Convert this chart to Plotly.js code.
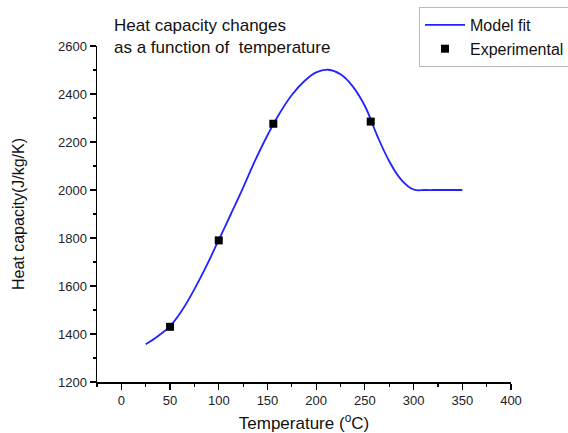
<!DOCTYPE html>
<html>
<head>
<meta charset="utf-8">
<script src="https://cdn.plot.ly/plotly-3.0.1.min.js"></script>
<style>html,body{margin:0;padding:0;background:#fff;overflow:hidden}#chart{width:568px;height:433px}</style>
</head>
<body>
<div id="chart"></div>
<script>
// Model fit curve
const fitTemp = [25, 37.5, 50, 62.5, 75, 87.5, 100, 112.5, 125, 137.5, 150, 162.5, 175, 187.5, 200, 212.5, 225, 237.5, 250, 262.5, 275, 287.5, 300, 312.5, 325, 337.5, 350];
const fitCp   = [1357, 1391, 1433, 1500, 1587, 1685, 1792, 1900, 2010, 2124, 2228, 2320, 2396, 2452, 2490, 2501, 2482, 2432, 2350, 2228, 2120, 2042, 2002, 2000, 2000, 2000, 2000];
// Experimental points
const expTemp = [50, 100, 156, 256];
const expCp   = [1430, 1790, 2276, 2285];

const font = 'Arial, "Liberation Sans", sans-serif';

const traces = [
  {x: fitTemp, y: fitCp, type: 'scatter', mode: 'lines', name: 'Model fit',
   line: {color: '#2222ff', width: 1.8, shape: 'spline', smoothing: 1.2}},
  {x: expTemp, y: expCp, type: 'scatter', mode: 'markers', name: 'Experimental',
   marker: {symbol: 'square', color: '#000', size: 8}}
];

const layout = {
  width: 568, height: 433,
  margin: {l: 97, r: 57, t: 46, b: 51, autoexpand: false},
  paper_bgcolor: '#fff', plot_bgcolor: '#fff',
  font: {family: font, size: 13, color: '#222'},
  title: {text: 'Heat capacity changes<br>as a function of  temperature',
          xref: 'container', yref: 'container', x: 114/568, xanchor: 'left',
          y: 1 - 31/433, yanchor: 'top', font: {family: font, size: 17, color: '#111'}},
  showlegend: true,
  legend: {x: (419 - 97) / 414, y: (382 - 7) / 336, xanchor: 'left', yanchor: 'top',
           bordercolor: '#bbb', borderwidth: 1, bgcolor: '#fff', itemwidth: 40,
           font: {family: font, size: 16, color: '#111'}, tracegroupgap: 0},
  xaxis: {range: [-25, 400], tick0: 0, dtick: 50, ticks: 'outside', ticklen: 6,
          tickwidth: 1.2, tickcolor: '#000', showline: true, linecolor: '#000', linewidth: 1.5,
          showgrid: false, zeroline: false, tickfont: {size: 13, color: '#222'},
          minor: {dtick: 25, ticks: 'outside', ticklen: 3, tickcolor: '#000', showgrid: false},
          title: {text: 'Temperature (<sup>o</sup>C)', font: {size: 17, color: '#111'}, standoff: 10}},
  yaxis: {range: [1200, 2600], dtick: 200, ticks: 'outside', ticklen: 6,
          tickwidth: 1.2, tickcolor: '#000', showline: true, linecolor: '#000', linewidth: 1.5,
          showgrid: false, zeroline: false, tickfont: {size: 13, color: '#222'},
          minor: {dtick: 100, ticks: 'outside', ticklen: 3, tickcolor: '#000', showgrid: false},
          title: {text: 'Heat capacity(J/kg/K)', font: {size: 16, color: '#111'}, standoff: 29}}
};

Plotly.newPlot('chart', traces, layout, {displayModeBar: false, staticPlot: true});
</script>
</body>
</html>
